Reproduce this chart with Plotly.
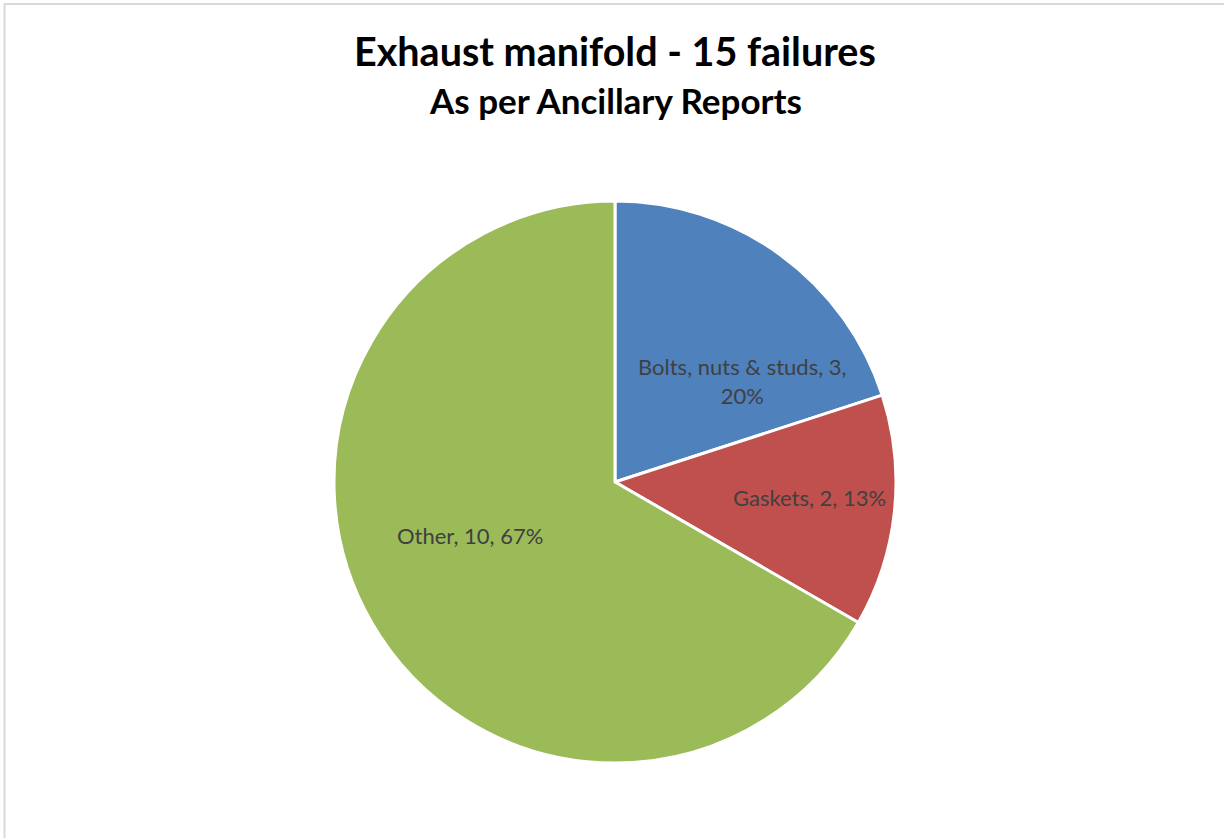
import plotly.graph_objects as go

categories = ["Bolts, nuts & studs", "Gaskets", "Other"]
values = [3, 2, 10]
label_texts = ["Bolts, nuts & studs, 3,<br>20%", "Gaskets, 2, 13%", "Other, 10, 67%"]
colors = ["#4F81BD", "#C0504D", "#9BBB59"]
title_main = "Exhaust manifold - 15 failures"
title_sub = "As per Ancillary Reports"

W, H = 1224, 838

# label anchor positions (pixels from top-left of the page)
label_pos = [(743, 381), (809, 497), (470, 535)]

fig = go.Figure(go.Pie(
    labels=categories,
    values=values,
    textinfo="none",
    sort=False,
    direction="clockwise",
    rotation=0,
    marker=dict(colors=colors, line=dict(color="white", width=3)),
    showlegend=False,
    hoverinfo="label+value+percent",
    domain=dict(x=[334 / W, 896 / W], y=[1 - 763 / H, 1 - 201 / H]),
))

for txt, (px, py) in zip(label_texts, label_pos):
    fig.add_annotation(text=txt, x=px / W, y=1 - py / H, xref="paper", yref="paper",
                       showarrow=False, xanchor="center", yanchor="middle", align="center",
                       font=dict(family="Lato", size=22, color="#404040"))

fig.add_annotation(text="<b>" + title_main + "</b>", x=615 / W, y=1 - 51 / H,
                   xref="paper", yref="paper", showarrow=False,
                   xanchor="center", yanchor="middle",
                   font=dict(family="Lato", size=39.5, color="#000000"))
fig.add_annotation(text="<b>" + title_sub + "</b>", x=615 / W, y=1 - 100 / H,
                   xref="paper", yref="paper", showarrow=False,
                   xanchor="center", yanchor="middle",
                   font=dict(family="Lato", size=35, color="#000000"))

fig.add_shape(type="rect", xref="paper", yref="paper",
              x0=4.5 / W, x1=1.05, y0=-0.05, y1=1 - 4 / H,
              line=dict(color="#D9D9D9", width=2), fillcolor="rgba(0,0,0,0)")

fig.update_layout(width=W, height=H, margin=dict(l=0, r=0, t=0, b=0),
                  paper_bgcolor="white", plot_bgcolor="white")

fig.write_html("out.html", config={"displayModeBar": False},
               post_script="document.body.style.margin='0';document.body.style.overflow='hidden';")
